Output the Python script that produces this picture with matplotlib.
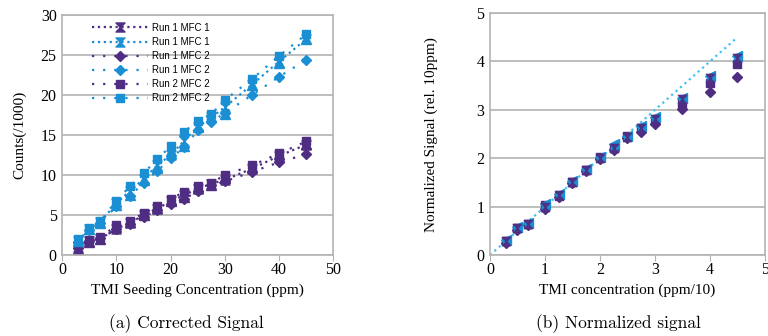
import numpy as np
import matplotlib.pyplot as plt
from matplotlib.path import Path

# colours
purple = '#4f2d82'
blue = '#1b8fd4'
cyan = '#3fc3f0'

# hourglass marker
hourglass = Path([(-1, 1), (1, 1), (-1, -1), (1, -1), (-1, 1)],
                 [Path.MOVETO, Path.LINETO, Path.LINETO, Path.LINETO, Path.CLOSEPOLY])

# (a) corrected signal, counts/1000
conc = [3, 5, 7, 10, 12.5, 15, 17.5, 20, 22.5, 25, 27.5, 30, 35, 40, 45]
r1m1_p = [1.0, 1.8, 2.0, 3.3, 4.0, 5.0, 5.8, 6.7, 7.5, 8.3, 8.9, 9.4, 10.8, 12.4, 13.8]
r1m1_b = [1.8, 3.3, 4.1, 6.5, 8.0, 9.5, 11.2, 12.5, 14.3, 16.0, 17.2, 18.5, 21.3, 24.2, 27.0]
r1m2_p = [0.9, 1.7, 2.1, 3.2, 3.9, 4.8, 5.6, 6.4, 7.0, 8.0, 8.7, 9.2, 10.4, 11.6, 12.6]
r1m2_b = [1.6, 3.1, 4.0, 6.1, 7.4, 9.0, 10.5, 12.1, 13.5, 15.6, 16.6, 17.8, 20.0, 22.3, 24.4]
r2m2_p = [1.3, 1.9, 2.2, 3.7, 4.3, 5.2, 6.1, 7.0, 7.9, 8.6, 9.0, 10.0, 11.2, 12.7, 14.2]
r2m2_b = [2.0, 3.4, 4.2, 6.8, 8.6, 10.2, 12.0, 13.6, 15.4, 16.8, 17.6, 19.4, 22.0, 24.9, 27.6]
r2m1_p = [0.8, 1.6, 2.0, 3.5, 4.1, 5.0, 5.9, 6.8, 7.2, 8.4, 8.8, 9.6, 11.0, 12.6, 13.9]
r2m1_b = [1.7, 3.2, 4.0, 6.2, 7.5, 9.4, 10.9, 13.0, 13.6, 16.0, 17.3, 17.6, 21.2, 24.0, 27.0]

# (b) normalized signal (rel. 10ppm)
conc10 = [0.3, 0.5, 0.7, 1.0, 1.25, 1.5, 1.75, 2.0, 2.25, 2.5, 2.75, 3.0, 3.5, 4.0, 4.5]
n_r1m1 = [0.30, 0.55, 0.64, 1.00, 1.25, 1.50, 1.76, 2.00, 2.22, 2.44, 2.63, 2.82, 3.22, 3.66, 4.08]
n_r1m2 = [0.25, 0.52, 0.62, 0.96, 1.20, 1.48, 1.73, 1.98, 2.18, 2.42, 2.55, 2.70, 3.02, 3.37, 3.68]
n_r2m2 = [0.28, 0.56, 0.65, 1.04, 1.22, 1.50, 1.75, 2.02, 2.22, 2.45, 2.62, 2.78, 3.15, 3.55, 3.95]
n_r2m1 = [0.32, 0.58, 0.66, 1.06, 1.27, 1.52, 1.78, 2.03, 2.30, 2.47, 2.67, 2.85, 3.25, 3.70, 4.12]
ref_x = [0, 4.5]
ref_y = [0, 4.5]

plt.rcParams['font.family'] = ['Liberation Serif', 'DejaVu Serif']

fig = plt.figure(figsize=(7.68, 3.36), dpi=100)
ax1 = fig.add_axes([0.081, 0.241, 0.353, 0.714])
ax2 = fig.add_axes([0.638, 0.241, 0.358, 0.72])

loose = (0, (1, 4))
ax1.plot(conc, r1m1_p, ls=':', lw=1.6, color=purple, marker=hourglass, ms=6.5, label='Run 1 MFC 1')
ax1.plot(conc, r1m1_b, ls=':', lw=1.6, color=blue, marker=hourglass, ms=6.5, label='Run 1 MFC 1')
ax1.plot(conc, r1m2_p, ls=loose, lw=1.6, color=purple, marker='D', ms=5, label='Run 1 MFC 2')
ax1.plot(conc, r1m2_b, ls=loose, lw=1.6, color=blue, marker='D', ms=5, label='Run 1 MFC 2')
ax1.plot(conc, r2m2_p, ls=loose, lw=1.6, color=purple, marker='s', ms=5.5, label='Run 2 MFC 2')
ax1.plot(conc, r2m2_b, ls=loose, lw=1.6, color=blue, marker='s', ms=5.5, label='Run 2 MFC 2')
ax1.plot(conc, r2m1_p, ls='none', color=purple, marker='^', ms=6.5)
ax1.plot(conc, r2m1_b, ls='none', color=blue, marker='^', ms=6.5)

ax1.set_xlim(0, 50)
ax1.set_ylim(0, 30)
ax1.set_xticks(np.arange(0, 51, 10))
ax1.set_yticks(np.arange(0, 31, 5))
ax1.set_xlabel('TMI Seeding Concentration (ppm)', fontsize=11)
ax1.set_ylabel('Counts(/1000)', fontsize=11, labelpad=10)
ax1.legend(loc='upper left', bbox_to_anchor=(0.08, 1.0), frameon=False, handlelength=5.8,
           prop={'family': 'Liberation Sans', 'size': 7}, labelspacing=0.42, borderpad=0.3,
           handletextpad=0.4)

ax2.plot(ref_x, ref_y, ls=':', lw=1.6, color=cyan)
ax2.plot(conc10, n_r1m2, ls='none', color=purple, marker='D', ms=5.5)
ax2.plot(conc10, n_r2m2, ls='none', color=purple, marker='s', ms=5.5)
ax2.plot(conc10, n_r2m1, ls='none', color=blue, marker='<', ms=6.5)
ax2.plot(conc10, n_r1m1, ls='none', color=blue, marker='s', ms=5)
ax2.plot(conc10, n_r1m1, ls='none', color=purple, marker=hourglass, ms=6, alpha=0.9)
ax2.set_xlim(0, 5)
ax2.set_ylim(0, 5)
ax2.set_xticks(range(6))
ax2.set_yticks(range(6))
ax2.set_xlabel('TMI concentration (ppm/10)', fontsize=11)
ax2.set_ylabel('Normalized Signal (rel. 10ppm)', fontsize=11, labelpad=28)

for ax in (ax1, ax2):
    ax.grid(axis='y', color='#b3b3b3', lw=1.2)
    ax.set_axisbelow(True)
    for s in ax.spines.values():
        s.set_color('#b3b3b3')
        s.set_linewidth(1.2)
    ax.tick_params(axis='y', length=0, labelsize=11.5, pad=4)
    ax.tick_params(axis='x', length=4, color='#b3b3b3', labelsize=11.5, pad=1)

fig.text(0.243, 0.022, '(a) Corrected Signal', ha='center', fontsize=12.5, family='cmr10')
fig.text(0.805, 0.022, '(b) Normalized signal', ha='center', fontsize=12.5, family='cmr10')

fig.savefig('out.png', dpi=100)
